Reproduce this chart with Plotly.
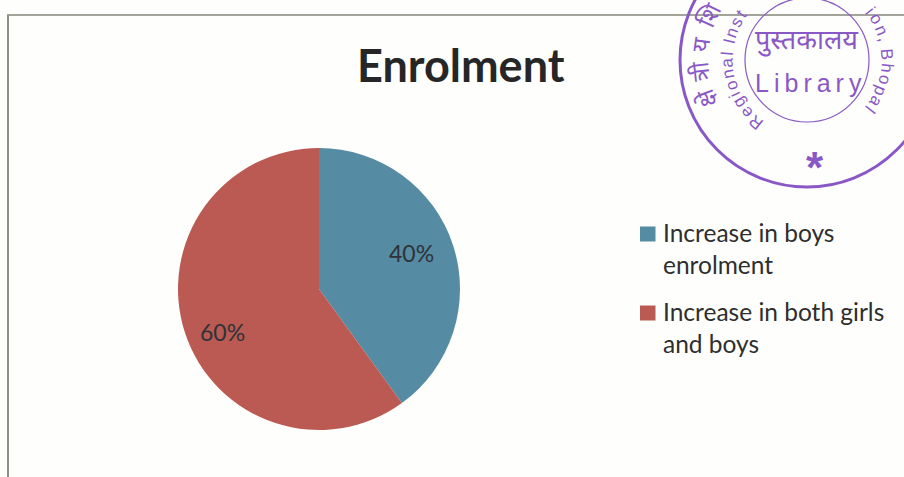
import math
import plotly.graph_objects as go

W, H = 904, 477

# Chart data
categories = ["Increase in boys<br>enrolment", "Increase in both girls<br>and boys"]
shares = [40, 60]
slice_colors = ["#568ba4", "#bb5a52"]
chart_title = "Enrolment"

# Where each percentage and legend entry sits on the page
share_label_xy = [(411, 253), (222, 332)]
legend_rows_y = [234, 313]

# Library stamp text
STAMP = "#8a58c6"
stamp_center = (807, 60)
english_ring = "Regional Institute of Education, Bhopal"
hindi_ring = ["क्षे", "त्री", "य", " ", "शि", "क्षा", " ", "सं", "स्था", "न", ",", " ", "भो", "पा", "ल"]


def px(x):
    return x / W


def py(y):
    return 1 - y / H


def note(text, x, y, family="Lato", size=20, color=STAMP, angle=0, xanchor="center", yanchor="middle", **font):
    return dict(text=text, x=px(x), y=py(y), xref="paper", yref="paper", showarrow=False,
                xanchor=xanchor, yanchor=yanchor, textangle=angle, align="left",
                borderpad=0, borderwidth=0,
                font=dict(family=family, size=size, color=color, **font))


fig = go.Figure(
    go.Pie(
        labels=categories,
        values=shares,
        sort=False,
        direction="clockwise",
        rotation=0,
        marker=dict(colors=slice_colors, line=dict(width=0)),
        textinfo="none",
        domain=dict(x=[px(178), px(460)], y=[py(430), py(148)]),
        hoverinfo="label+percent",
        showlegend=False,
    )
)

shapes = [
    # Frame around the chart
    dict(type="line", xref="paper", yref="paper", x0=px(7), x1=1, y0=py(15), y1=py(15),
         line=dict(color="#a3a39a", width=2)),
    dict(type="line", xref="paper", yref="paper", x0=px(8), x1=px(8), y0=py(15), y1=0,
         line=dict(color="#8f8f88", width=2)),
]

annotations = [note(chart_title, 461, 65, size=45, color="#262626", weight="bold")]

# Percent labels on the slices
for share, (x, y) in zip(shares, share_label_xy):
    annotations.append(note(f"{share}%", x, y, size=23, color="#2e3338"))

# Legend swatches and wrapped entries
for name, color, y in zip(categories, slice_colors, legend_rows_y):
    shapes.append(dict(type="rect", xref="paper", yref="paper",
                       x0=px(640), x1=px(655.5), y0=py(y + 7.5), y1=py(y - 7.5),
                       fillcolor=color, line=dict(width=0)))
    annotations.append(note(name, 663, y - 16, size=24.5, color="#2e2e2e",
                            xanchor="left", yanchor="top"))

# Stamp rings
cx, cy = stamp_center
for r, width in [(127, 3), (62, 1.2)]:
    shapes.append(
        dict(type="circle", xref="paper", yref="paper",
             x0=px(cx - r), x1=px(cx + r), y0=py(cy + r), y1=py(cy - r),
             line=dict(color=STAMP, width=width))
    )

annotations += [
    note("पुस्तकालय", 807, 39, family="Noto Sans, sans-serif", size=27),
    note("L\u2009i\u2009b\u2009r\u2009a\u2009r\u2009y", 808, 83, family="Liberation Sans", size=25),
    note("*", 815, 167, family="Liberation Sans", size=44, weight="bold"),
]


def glyph_width(ch):
    """Rough relative advance, so the ring keeps its natural letter spacing."""
    if ch == " ":
        return 0.45
    if ch in "iltfrjI,.":
        return 0.55
    if ch in "mBERN":
        return 1.25
    return 1.0


def ring_text(chars, radius, start, step, size, space=None):
    """Lay characters out clockwise around the stamp centre."""
    a = start
    for ch in chars:
        w = glyph_width(ch) if space is None else (space if ch == " " else 1.0)
        a += step * w / 2
        x = cx + radius * math.sin(math.radians(a))
        y = cy - radius * math.cos(math.radians(a))
        # Whole glyphs only: the ring runs off the top and right of the page
        if ch != " " and y > size * 0.62 and x < W - size * 0.6:
            annotations.append(note(ch, x, y, family="Liberation Sans, Noto Sans, sans-serif",
                                    size=size, angle=a))
        a += step * w / 2


ring_text(list(english_ring), 80, -146, 8.6, 17)
ring_text(hindi_ring, 107, -118, 14.5, 24, space=0.15)

fig.update_layout(
    width=W,
    height=H,
    margin=dict(l=0, r=0, t=0, b=0),
    paper_bgcolor="#fefefc",
    plot_bgcolor="#fefefc",
    shapes=shapes,
    annotations=annotations,
)

fig.write_html("out.html", config={"displayModeBar": False})
